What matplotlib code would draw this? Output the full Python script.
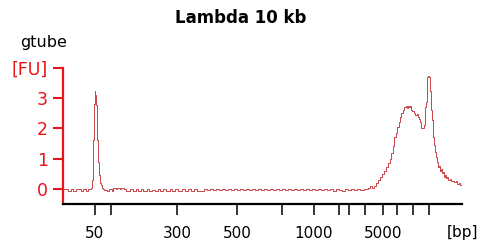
import matplotlib
matplotlib.use("Agg")
import matplotlib.pyplot as plt

# ---- data (x = migration position units, y = fluorescence [FU]) ----
base_left_t = [63, 66, 68, 71, 73, 76, 78, 81, 83, 86, 88, 91]
base_left_fu = [0.0, 0.0, -0.06, 0.0, -0.06, 0.0, 0.0, -0.06, 0.0, -0.06, 0.0, 0.03]

marker_t = [92, 92.5, 93, 93.5, 94, 94.5, 95, 95.5, 96, 96.5, 97, 97.5, 98, 98.5, 99, 100, 101, 102, 103]
marker_fu = [0.3, 0.8, 1.6, 2.3, 2.8, 3.2, 3.1, 2.9, 2.75, 2.0, 1.6, 1.21, 0.9, 0.6, 0.46, 0.2, 0.13, 0.05, 0.0]

base_mid_t = [104, 107, 109, 112, 113, 116, 117, 120, 121, 124, 126, 130, 133, 136, 138, 141,
              143, 147, 149, 152, 155, 158, 160, 163, 166, 170, 172, 175, 178, 182, 185, 188,
              191, 194, 197, 204, 207, 210, 213, 216, 219, 222, 225, 228, 231, 234, 237, 240,
              243, 246, 249, 252, 255, 258, 261, 264, 267, 270, 273, 276, 279, 282, 285, 288,
              291, 294, 297, 300, 303, 306, 309, 312, 315, 318, 321, 324, 327, 330, 333, 336,
              339, 342, 345, 348, 351, 354, 357, 360, 364]
base_mid_fu = [-0.03, -0.06, 0.0, -0.05, 0.04, 0.0, 0.04, 0.0, 0.04, 0.0, -0.05, 0.0, -0.05, 0.0, -0.05, 0.0,
               -0.05, 0.0, -0.05, -0.02, -0.05, 0.0, -0.05, 0.0, -0.05, 0.0, -0.05, 0.0, -0.05, 0.0, -0.05, 0.0,
               -0.05, 0.0, -0.08, 0.0, -0.04, 0.0, -0.04, 0.0, -0.04, 0.0, -0.04, 0.0, -0.04, 0.0, -0.04, 0.0,
               -0.04, 0.0, -0.04, 0.0, -0.04, 0.0, -0.04, 0.0, -0.04, 0.0, -0.04, 0.0, -0.04, 0.0, -0.04, 0.0,
               -0.04, 0.0, -0.04, 0.0, -0.04, 0.0, -0.04, 0.0, -0.04, 0.0, -0.04, 0.0, -0.04, 0.0, -0.07, 0.0,
               -0.04, -0.07, 0.0, -0.04, 0.0, -0.04, 0.0, -0.04, 0.0]

main_t = [366, 368, 370, 372, 374, 376, 378, 380, 382, 384, 386, 388, 390, 391, 393, 394, 396, 397,
          399, 400, 401, 403, 404, 406, 407, 408, 409, 410, 411, 412, 414, 415, 417, 418, 419, 420,
          421, 423, 424, 425, 426, 427, 428, 429, 430, 431, 432, 433, 434, 435, 436, 437, 438, 439,
          440, 441, 442, 443, 444, 445, 446, 447, 448, 450, 451, 453, 454, 456, 457, 459, 460, 461, 462]
main_fu = [0.0, 0.05, 0.1, 0.05, 0.1, 0.2, 0.3, 0.39, 0.5, 0.6, 0.72, 0.85, 1.0, 1.18, 1.4, 1.7, 1.85, 2.03,
           2.2, 2.35, 2.49, 2.6, 2.7, 2.72, 2.65, 2.74, 2.7, 2.74, 2.6, 2.55, 2.5, 2.42, 2.45, 2.35, 2.3, 2.2,
           2.0, 2.0, 2.1, 2.7, 2.85, 3.67, 3.72, 3.67, 3.2, 2.6, 2.26, 1.7, 1.44, 1.2, 1.05, 0.9, 0.72, 0.75,
           0.6, 0.65, 0.52, 0.55, 0.4, 0.45, 0.35, 0.38, 0.3, 0.32, 0.26, 0.28, 0.22, 0.25, 0.18, 0.2, 0.14, 0.12, 0.1]

ladder_pos = [95, 111, 177, 237, 282, 314, 339, 349, 365, 383, 397, 413, 429]
ladder_labels = ['50', '', '300', '500', '', '1000', '', '', '', '5000', '', '', '']

y_ticks = [0, 1, 2, 3, 3.97]
y_labels = ['0', '1', '2', '3', '[FU]']

t = base_left_t + marker_t + base_mid_t + main_t
fu = base_left_fu + marker_fu + base_mid_fu + main_fu

RED = '#e8141a'
LINE = '#c8464b'

fig = plt.figure(figsize=(4.8, 2.46), dpi=100)
ax = fig.add_axes([63/480, 42/246, (462-63)/480, (204-68)/246])
ax.plot(t, fu, color=LINE, lw=0.7, drawstyle='steps-post')

ax.set_xlim(63, 462)
ax.set_ylim(-0.49, 3.97)

for s in ['top', 'right']:
    ax.spines[s].set_visible(False)
ax.spines['left'].set_color(RED)
ax.spines['left'].set_linewidth(1.6)
ax.spines['bottom'].set_color('black')
ax.spines['bottom'].set_linewidth(1.6)

ax.set_xticks(ladder_pos)
ax.set_xticklabels(ladder_labels)
ax.tick_params(axis='x', direction='out', length=8, width=1.1, color='black',
               labelsize=11, pad=8)
ax.set_yticks(y_ticks)
ax.set_yticklabels(y_labels)
ax.tick_params(axis='y', direction='out', length=7, width=1.5, color=RED,
               labelcolor=RED, labelsize=12.5, pad=4)

fig.text(241/480, 1-18/246, 'Lambda 10 kb', ha='center', va='center',
         fontsize=12, fontweight='bold')
fig.text(44/480, 1-42/246, 'gtube', ha='center', va='center', fontsize=11.5)
fig.text(463/480, 1-232/246, '[bp]', ha='center', va='center', fontsize=11)

fig.savefig('out.png', dpi=100)
